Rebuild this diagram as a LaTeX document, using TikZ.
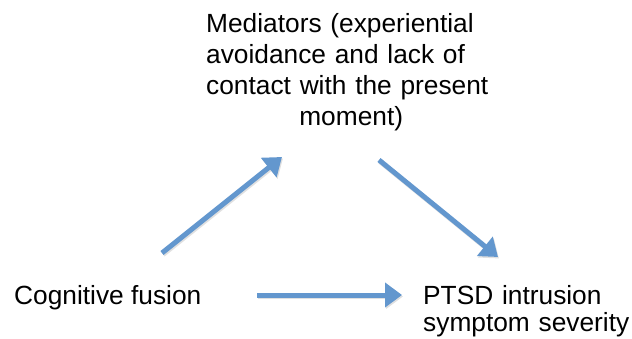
\documentclass[tikz,border=0pt]{standalone}
\usepackage{fontspec}
\setmainfont{Liberation Sans}
\usetikzlibrary{arrows.meta}
\definecolor{arrowblue}{RGB}{99,151,206}
\begin{document}
\begin{tikzpicture}[x=1pt,y=-1pt,
  lbl/.style={inner sep=0pt, anchor=base west, font=\fontsize{26.3}{31}\selectfont},
  flow/.style={draw=arrowblue, line width=5pt, -{Triangle[length=17pt,width=24pt]}},
  flowshadow/.style={draw=black, opacity=0.12, line width=5pt, -{Triangle[length=17pt,width=24pt]}, transform canvas={shift={(1pt,-1.5pt)}}}]
\useasboundingbox (0,0) rectangle (632,339);
\node[lbl, text width=290pt, align=left] (med) at (206,33)
  {Mediators (experiential\\avoidance and lack of\\contact with the present\\\hspace*{\fill}moment)\hspace*{\fill}\hspace*{22pt}};
\node[lbl] (cog) at (14,305) {Cognitive fusion};
\node[lbl, text width=209pt, align=left, font=\fontsize{26.3}{27}\selectfont] (ptsd) at (423,305) {PTSD intrusion\\symptom severity};
\coordinate (a1s) at (162,253);
\coordinate (a1e) at (282,157);
\coordinate (a2s) at (379,160);
\coordinate (a2e) at (498,257);
\coordinate (a3s) at (257,295);
\coordinate (a3e) at (402,295);
\draw[flowshadow] (a1s) -- (a1e);
\draw[flowshadow] (a2s) -- (a2e);
\draw[flowshadow] (a3s) -- (a3e);
\draw[flow] (a1s) -- (a1e);
\draw[flow] (a2s) -- (a2e);
\draw[flow] (a3s) -- (a3e);
\end{tikzpicture}
\end{document}
